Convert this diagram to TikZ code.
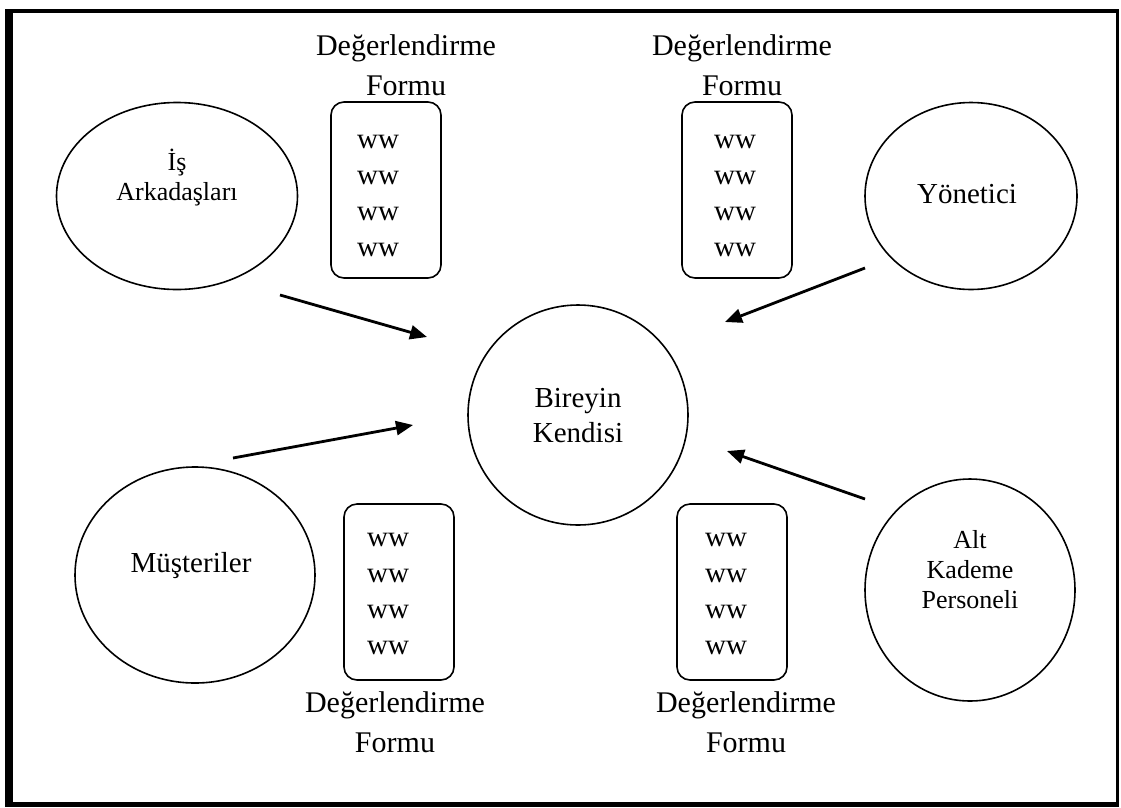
\documentclass[tikz,border=0pt]{standalone}
\usepackage{fontspec}
\setmainfont{Liberation Serif}
\usetikzlibrary{shapes.geometric,arrows.meta}
\begin{document}
\begin{tikzpicture}[x=1pt,y=-1pt,
  party/.style={draw, ellipse, line width=1.6pt, inner sep=0pt},
  formbox/.style={draw, rounded corners=13pt, line width=1.6pt, inner sep=0pt,
    minimum width=110pt, minimum height=176pt},
  bigtext/.style={font=\fontsize{29}{35}\selectfont, align=center, inner sep=0pt},
  smalltext/.style={font=\fontsize{26}{30}\selectfont, align=center, inner sep=0pt},
  formtitle/.style={font=\fontsize{30}{40}\selectfont, align=center, inner sep=0pt},
  rows/.style={font=\fontsize{29}{36}\selectfont, align=center, inner sep=0pt},
  feed/.style={line width=2.8pt, -{Triangle[length=17pt,width=14pt]}},
]
\useasboundingbox (0,0) rectangle (1121,807);

% page frame: heavy left and top edges, lighter right and bottom edges
\fill (5,8.5) rectangle (1119,12.7);
\fill (5,8.5) rectangle (13,806.7);
\fill (1116,8.5) rectangle (1119,806.7);
\fill (5,802) rectangle (1119,806.7);

% evaluators
\node[party, minimum width=241pt, minimum height=187pt] (coworkers) at (177,196) {};
\node[smalltext] (coworkers-t) at (177,178) {İş\\Arkadaşları};

\node[party, minimum width=212pt, minimum height=187pt] (manager) at (971,196) {};
\node[bigtext] (manager-t) at (967,194) {Yönetici};

\node[party, minimum width=240pt, minimum height=216pt] (customers) at (195,575) {};
\node[bigtext] (customers-t) at (191,566) {Müşteriler};

\node[party, minimum width=210pt, minimum height=222pt] (subordinates) at (970,590) {};
\node[smalltext] (subordinates-t) at (970,570) {Alt\\Kademe\\Personeli};

% the person being evaluated
\node[draw, circle, minimum size=220pt, line width=1.6pt, inner sep=0pt] (self) at (578,415) {};
\node[bigtext] (self-t) at (578,416) {Bireyin\\Kendisi};

% evaluation forms with their titles
\node[formbox] (form-tl) at (386,190) {};
\node[rows] (rows-tl) at (378,196) {ww\\ww\\ww\\ww};
\node[formtitle, anchor=south] (title-tl) at (406,96) {Değerlendirme\\Formu};

\node[formbox] (form-tr) at (737,190) {};
\node[rows] (rows-tr) at (735,196) {ww\\ww\\ww\\ww};
\node[formtitle, anchor=south] (title-tr) at (742,96) {Değerlendirme\\Formu};

\node[formbox] (form-bl) at (399,592) {};
\node[rows] (rows-bl) at (388,594) {ww\\ww\\ww\\ww};
\node[formtitle, anchor=north] (title-bl) at (395,691) {Değerlendirme\\Formu};

\node[formbox] (form-br) at (732,592) {};
\node[rows] (rows-br) at (726,594) {ww\\ww\\ww\\ww};
\node[formtitle, anchor=north] (title-br) at (746,691) {Değerlendirme\\Formu};

% feedback arrows pointing at the person
\coordinate (a1s) at (280,295); \coordinate (a1e) at (427,337);
\coordinate (a2s) at (865,268); \coordinate (a2e) at (725,322);
\coordinate (a3s) at (233,458); \coordinate (a3e) at (413,425);
\coordinate (a4s) at (865,499); \coordinate (a4e) at (727,451);
\draw[feed] (a1s) -- (a1e);
\draw[feed] (a2s) -- (a2e);
\draw[feed] (a3s) -- (a3e);
\draw[feed] (a4s) -- (a4e);
\end{tikzpicture}
\end{document}
